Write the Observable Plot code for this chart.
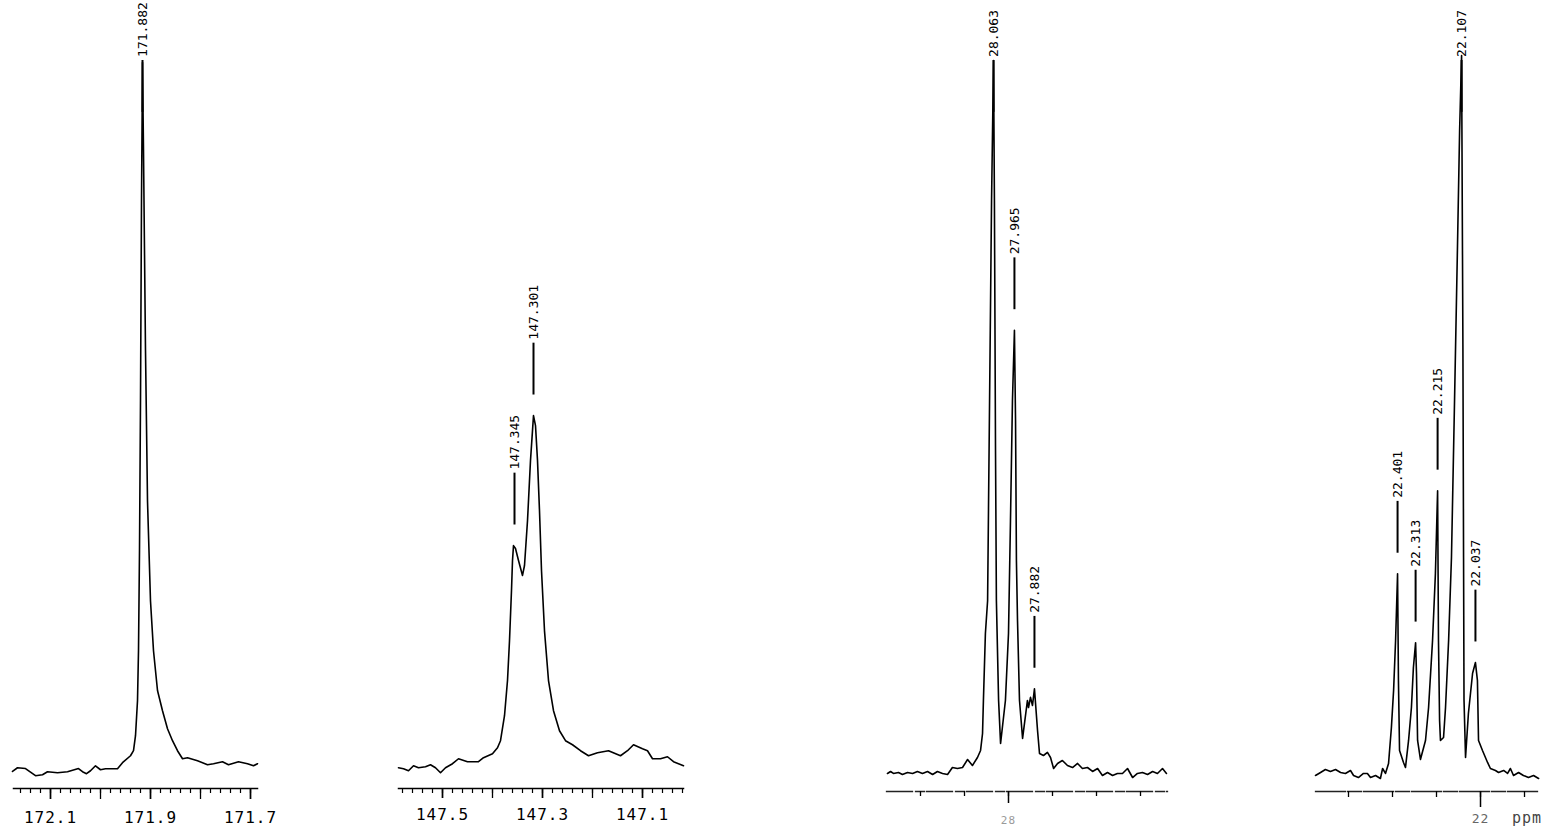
<!DOCTYPE html>
<html><head><meta charset="utf-8">
<script src="https://cdn.jsdelivr.net/npm/d3@7"></script>
<script src="https://cdn.jsdelivr.net/npm/@observablehq/plot@0.6"></script>
<style>
html,body{margin:0;padding:0;background:#fff;overflow:hidden;}
#chart{position:relative;width:1545px;height:834px;background:#fff;overflow:hidden;}
.panel{position:absolute;top:0;}
.panel svg{max-width:none !important;}
[aria-label="x-axis tick label"] text{letter-spacing:1px;}
#ppm{position:absolute;left:1512px;top:809px;font:15px "DejaVu Sans Mono",monospace;color:#444;letter-spacing:1px;}
</style></head><body><div id="chart"></div>
<script>
// ---------- Panel 1 : 171.9 ppm region ----------
const p1Ppm = [172.176,172.166,172.150,172.130,172.116,172.106,172.086,172.066,172.044,172.036,172.028,172.020,172.010,172.000,171.990,171.966,171.956,171.940,171.934,171.930,171.926,171.924,171.922,171.920,171.918,171.916,171.914,171.910,171.906,171.900,171.894,171.886,171.876,171.866,171.856,171.846,171.836,171.826,171.806,171.786,171.774,171.756,171.744,171.724,171.706,171.694,171.686];
const p1Int = [-0.1,0.42,0.31,-0.70,-0.56,-0.14,-0.28,-0.14,0.31,-0.14,-0.42,0,0.70,0.14,0.28,0.28,1.13,2.11,2.82,4.93,9.86,16.9,31.0,52.1,80.3,99.7,87.3,59.2,38.0,23.9,16.9,11.3,8.45,5.92,4.23,2.82,1.69,1.83,1.41,0.85,0.99,1.27,0.85,1.27,0.99,0.70,0.99];
const p1PeakPpm = [171.916];
const p1PeakInt = [99.7];
const p1PeakText = ["171.882"];
const p1TickValues = [172.1, 171.9, 171.7];
const p1TickLabels = ["172.1", "171.9", "171.7"];
const p1MajorTicks = [172.1, 172.0, 171.9, 171.8, 171.7];
const p1Domain = [172.174, 171.686];

// ---------- Panel 2 : 147.3 ppm region ----------
const p2Ppm = [147.588,147.578,147.568,147.558,147.548,147.534,147.524,147.514,147.504,147.494,147.480,147.468,147.450,147.428,147.418,147.400,147.390,147.384,147.376,147.370,147.366,147.362,147.360,147.358,147.354,147.348,147.340,147.336,147.330,147.324,147.318,147.314,147.310,147.306,147.302,147.296,147.288,147.278,147.266,147.254,147.240,147.224,147.208,147.190,147.168,147.144,147.130,147.118,147.100,147.090,147.080,147.064,147.050,147.038,147.018];
const p2Int = [0.42,0.28,0,0.70,0.42,0.56,0.85,0.42,-0.28,0.42,0.99,1.69,1.27,1.27,1.83,2.39,3.24,4.23,7.75,12.7,18.3,25.4,29.6,31.7,31.3,29.6,27.5,28.9,35.2,43.7,50.0,48.6,43.7,36.6,28.2,19.7,12.7,8.45,5.63,4.23,3.66,2.82,2.11,2.54,2.82,2.11,2.82,3.66,3.10,2.82,1.69,1.69,1.97,1.27,0.70];
const p2PeakPpm = [147.356, 147.318];
const p2PeakInt = [31.7, 50.0];
const p2PeakText = ["147.345", "147.301"];
const p2TickValues = [147.5, 147.3, 147.1];
const p2TickLabels = ["147.5", "147.3", "147.1"];
const p2MajorTicks = [147.5, 147.4, 147.3, 147.2, 147.1];
const p2Domain = [147.588, 147.018];

// ---------- Panel 3 : 28 ppm region ----------
const p3Ppm = [28.550,28.536,28.523,28.500,28.482,28.459,28.436,28.414,28.391,28.368,28.345,28.323,28.300,28.277,28.255,28.232,28.209,28.186,28.164,28.141,28.127,28.118,28.114,28.105,28.095,28.086,28.077,28.068,28.064,28.059,28.055,28.045,28.036,28.014,28.000,27.991,27.982,27.973,27.968,27.964,27.959,27.950,27.936,27.914,27.909,27.900,27.891,27.882,27.868,27.859,27.841,27.823,27.809,27.795,27.777,27.755,27.732,27.709,27.686,27.664,27.641,27.618,27.595,27.573,27.550,27.527,27.505,27.482,27.459,27.436,27.414,27.391,27.368,27.345,27.323,27.300,27.282];
const p3Int = [-0.42,-0.14,-0.42,-0.28,-0.56,-0.28,-0.42,-0.14,-0.42,-0.14,-0.56,-0.14,-0.42,-0.56,0.42,0.28,0.42,1.55,0.70,1.83,2.82,5.21,9.86,19.3,23.9,52.1,80.3,100,80.3,45.1,23.9,9.86,3.80,9.86,19.3,35.2,52.1,62.0,49.3,29.6,21.1,9.86,4.51,9.86,8.87,10.3,9.15,11.5,5.63,2.39,2.11,2.54,1.83,0.28,0.99,1.41,0.70,0.42,0.99,0.28,0.42,-0.14,0.28,-0.70,-0.28,-0.70,-0.42,-0.42,0.28,-0.99,-0.42,-0.28,-0.56,-0.14,-0.42,0.28,-0.42];
const p3PeakPpm = [28.068, 27.973, 27.882];
const p3PeakInt = [100, 62.0, 11.5];
const p3PeakText = ["28.063", "27.965", "27.882"];
const p3TickValues = [28.0];
const p3TickLabels = ["28"];
const p3MajorTicks = [28.4, 28.2, 28.0, 27.8, 27.6, 27.4];
const p3Domain = [28.5545, 27.2773];

// ---------- Panel 4 : 22 ppm region ----------
const p4Ppm = [22.750,22.727,22.705,22.682,22.659,22.636,22.614,22.591,22.577,22.555,22.532,22.514,22.500,22.477,22.455,22.445,22.432,22.418,22.405,22.395,22.386,22.377,22.373,22.368,22.350,22.341,22.327,22.314,22.305,22.295,22.291,22.286,22.273,22.250,22.236,22.218,22.205,22.195,22.191,22.186,22.182,22.168,22.159,22.145,22.132,22.118,22.105,22.095,22.086,22.080,22.077,22.075,22.068,22.055,22.036,22.023,22.014,22.009,21.991,21.968,21.955,21.932,21.918,21.895,21.877,21.864,21.850,21.827,21.805,21.782,21.759,21.736];
const p4Int = [-0.70,-0.28,0.14,-0.14,0.14,-0.28,-0.42,0,-0.70,-0.99,-0.42,-0.42,-0.99,-0.70,-1.13,0.28,-0.42,0.99,6.06,11.3,18.3,27.7,12.7,2.82,1.13,0.42,4.23,8.87,14.5,18.0,13.7,4.23,1.55,4.23,8.87,18.3,27.7,39.4,18.3,7.04,4.23,4.65,8.87,18.3,30.0,52.1,73.2,90.1,100.7,60,30,10,1.83,8.03,13.7,15.2,12.7,4.23,2.82,1.13,0.28,0,-0.28,0,-0.42,0.28,-0.70,-0.28,-0.70,-0.99,-0.70,-1.13];
const p4PeakPpm = [22.377, 22.295, 22.195, 22.086, 22.023];
const p4PeakInt = [27.7, 18.0, 39.4, 100.7, 15.2];
const p4PeakText = ["22.401", "22.313", "22.215", "22.107", "22.037"];
const p4TickValues = [22.0];
const p4TickLabels = ["22"];
const p4MajorTicks = [22.6, 22.4, 22.2, 22.0, 21.8];
const p4Domain = [22.75, 21.7364];

const p1Minor = d3.range(0, 24).map(i => +(172.16 - 0.02 * i).toFixed(2));
const p2Minor = d3.range(0, 29).map(i => +(147.58 - 0.02 * i).toFixed(2));

const panels = [
  {ppm: p1Ppm, inten: p1Int, pk: p1PeakPpm, pkI: p1PeakInt, pkT: p1PeakText, tv: p1TickValues, tl: p1TickLabels,
   major: p1MajorTicks, minor: p1Minor, domain: p1Domain, a0: 13, a1: 257, mb: 46, y0: -2.5,
   minorSize: 5, majorSize: 11, labelSize: 11, pad: 12, lfs: 16, lfill: "#000", axStroke: "#000", axW: 1.5, dash: null},
  {ppm: p2Ppm, inten: p2Int, pk: p2PeakPpm, pkI: p2PeakInt, pkT: p2PeakText, tv: p2TickValues, tl: p2TickLabels,
   major: p2MajorTicks, minor: p2Minor, domain: p2Domain, a0: 398, a1: 683, mb: 46, y0: -2.5,
   minorSize: 5, majorSize: 10, labelSize: 10, pad: 10, lfs: 16, lfill: "#000", axStroke: "#000", axW: 1.5, dash: null},
  {ppm: p3Ppm, inten: p3Int, pk: p3PeakPpm, pkI: p3PeakInt, pkT: p3PeakText, tv: p3TickValues, tl: p3TickLabels,
   major: p3MajorTicks, minor: [], domain: p3Domain, a0: 886, a1: 1167, mb: 43, y0: -2.96,
   minorSize: 0, majorSize: 5, labelSize: 12, pad: 13, lfs: 11, lfill: "#9a9a9a", axStroke: "#222", axW: 1.3, dash: "26,3,9,2"},
  {ppm: p4Ppm, inten: p4Int, pk: p4PeakPpm, pkI: p4PeakInt, pkT: p4PeakText, tv: p4TickValues, tl: p4TickLabels,
   major: p4MajorTicks, minor: [], domain: p4Domain, a0: 1315, a1: 1538, mb: 43, y0: -2.96,
   minorSize: 0, majorSize: 6, labelSize: 16, pad: 6, lfs: 13, lfill: "#666", axStroke: "#222", axW: 1.3, dash: "30,2,14,2"}
];

const chart = document.getElementById("chart");
const side = 12;

for (const c of panels) {
  const data = c.ppm.map((p, i) => ({ppm: p, I: c.inten[i]}));
  const labels = c.pk.map((p, i) => {
    const h = c.pkI[i];
    const ts = Math.min(h + 10.7, 100.5);
    const lt = ts - 0.5;
    const lb = Math.min(h + 2.9, lt - 7.3);
    return {ppm: p, lb, lt, ts, text: c.pkT[i]};
  });
  const fmt = new Map(c.tv.map((v, i) => [v, c.tl[i]]));
  const marks = [
    Plot.frame({anchor: "bottom", stroke: c.axStroke, strokeWidth: c.axW, strokeDasharray: c.dash})
  ];
  if (c.minor.length) marks.push(Plot.axisX({ticks: c.minor, tickSize: c.minorSize, tickFormat: () => "", label: null, strokeWidth: 1.2}));
  marks.push(Plot.axisX({ticks: c.major, tickSize: c.majorSize, tickFormat: () => "", label: null, strokeWidth: 1.3}));
  marks.push(Plot.axisX({ticks: c.tv, tickSize: c.labelSize, tickPadding: c.pad, tickFormat: d => fmt.get(d), label: null,
    strokeWidth: 1.5, fontSize: c.lfs, fill: c.lfill}));
  marks.push(Plot.line(data, {x: "ppm", y: "I", stroke: "#000", strokeWidth: 1.6, curve: "linear"}));
  marks.push(Plot.ruleX(labels, {x: "ppm", y1: "lb", y2: "lt", stroke: "#000", strokeWidth: 2}));
  marks.push(Plot.text(labels, {x: "ppm", y: "ts", text: "text", rotate: -90, textAnchor: "start",
    fontSize: 13, fontFamily: "DejaVu Sans Mono", fill: "#000"}));

  const w = c.a1 - c.a0 + 2 * side;
  const svg = Plot.plot({
    width: w,
    height: 834,
    marginLeft: side, marginRight: side, marginTop: 60, marginBottom: c.mb,
    x: {domain: c.domain, label: null},
    y: {domain: [c.y0, 100], axis: null, label: null},
    style: {fontFamily: "DejaVu Sans Mono", fontSize: "16px", background: "transparent", color: "#000", overflow: "visible", maxWidth: "none"},
    marks
  });
  svg.style.maxWidth = "none";
  svg.style.width = w + "px";
  svg.style.height = "834px";
  const div = document.createElement("div");
  div.className = "panel";
  div.style.left = (c.a0 - side) + "px";
  div.style.width = w + "px";
  div.style.height = "834px";
  div.appendChild(svg);
  chart.appendChild(div);
}
const ppm = document.createElement("div");
ppm.id = "ppm";
ppm.textContent = "ppm";
chart.appendChild(ppm);
</script>
</body></html>
